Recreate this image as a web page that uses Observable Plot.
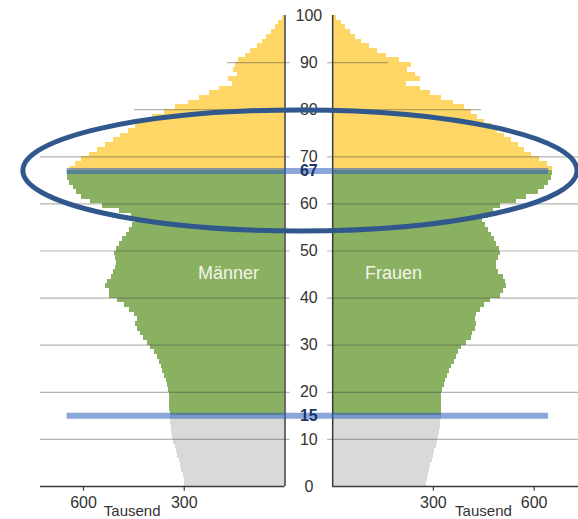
<!DOCTYPE html>
<html>
<head>
<meta charset="utf-8">
<script src="https://cdn.jsdelivr.net/npm/d3@7"></script>
<script src="https://cdn.jsdelivr.net/npm/@observablehq/plot@0.6"></script>
<style>
  html, body { margin: 0; padding: 0; background: #ffffff; }
  #chart svg { display: block; }
</style>
</head>
<body>
<div id="chart"></div>
<script>
// ---- Data (Tausend Personen je Altersjahr) ----
const ages = [
  0,1,2,3,4,5,6,7,8,9,10,11,12,13,14,15,16,17,18,19,
  20,21,22,23,24,25,26,27,28,29,30,31,32,33,34,35,36,37,38,39,
  40,41,42,43,44,45,46,47,48,49,50,51,52,53,54,55,56,57,58,59,
  60,61,62,63,64,65,66,67,68,69,70,71,72,73,74,75,76,77,78,79,
  80,81,82,83,84,85,86,87,88,89,90,91,92,93,94,95,96,97,98,99
];
const maenner = [
  298,299,303,307,311,314,319,323,327,331,335,337,339,340,341,342,343,343,345,345,
  346,349,354,359,364,369,374,381,389,399,409,421,429,439,446,439,448,463,478,498,
  523,523,533,528,516,510,506,503,506,508,503,493,483,473,464,453,443,458,494,543,
  578,606,621,631,642,648,648,642,625,605,582,558,535,512,490,467,444,420,395,358,
  325,288,256,226,196,157,169,141,154,147,137,117,102,82,68,55,41,28,18,8
];
const frauen = [
  280,282,285,288,292,296,300,304,308,312,316,319,320,322,323,325,325,325,325,325,
  328,332,336,342,348,355,362,368,375,384,399,414,417,424,429,424,429,439,451,469,
  499,509,518,514,509,494,489,489,494,499,497,489,481,474,464,454,447,464,479,499,
  548,578,612,632,642,652,655,655,640,615,592,572,552,532,512,492,472,452,432,412,
  393,360,325,292,262,220,262,246,222,236,198,159,134,109,87,68,52,38,25,12
];
const ageTicks = [0,10,20,30,40,50,60,70,80,90,100];
const markedAges = [15, 67];               // Grenzen: unter 15 / 15–66 / 67+
const valueTicks = [300, 600];              // Tausend
const gridAges = [10,20,30,40,50,60,70,80,90];
const gridReachLeft  = [728,728,728,728,728,728,728,448,171];
const gridReachRight = [732,732,732,732,732,732,732,443,166];
const groupNames  = ["unter 15", "15 bis 66", "67 und älter"];
const groupColors = ["#d9d9d9", "#8ab062", "#fdd666"];
const sideLabels  = ["Männer", "Frauen"];

// ---- Layout helpers (in Tausend units) ----
const gap = 71;                 // half width of the central label column
const xDomain = [-799, 803];
const markLineLeft = 649, markLineRight = 643;
const sideLabelAge = 45.2, sideLabelPos = [168, 181];
const unitLabelPos = [455, 449];
const ellipseSpec = {x: -25, age: 67, rx: 825, ry: 12.85};

const groupOf = a => a < markedAges[0] ? groupNames[0] : a < markedAges[1] ? groupNames[1] : groupNames[2];
const bars = ages.flatMap((a, i) => [
  {age: a, x1: -gap, x2: -gap - maenner[i], group: groupOf(a)},
  {age: a, x1: gap,  x2: gap + frauen[i],   group: groupOf(a)}
]);
const grid = gridAges.map((a, i) => ({age: a, left: gridReachLeft[i], right: gridReachRight[i]}));
const xTicks = [...valueTicks.map(v => -gap - v), ...valueTicks.map(v => gap + v)];
const font = "'Liberation Sans Narrow', 'Liberation Sans', Arial, sans-serif";

const chart = Plot.plot({
  width: 578,
  height: 519,
  marginLeft: 40,
  marginRight: 0,
  marginTop: 15,
  marginBottom: 33,
  style: {background: "#ffffff", fontFamily: font, fontSize: "16px", color: "#333"},
  x: {domain: xDomain, axis: null},
  y: {domain: [0, 100], axis: null},
  color: {domain: groupNames, range: groupColors},
  marks: [
    Plot.rectX(bars, {x1: "x1", x2: "x2", y1: "age", y2: d => d.age + 1, fill: "group", shapeRendering: "crispEdges"}),
    // grid lines (over the bars, semi-transparent)
    Plot.ruleY(grid, {y: "age", x1: d => -gap - d.left, x2: -gap + 15, stroke: "#444", strokeOpacity: 0.4, strokeWidth: 1.2}),
    Plot.ruleY(grid, {y: "age", x1: gap - 15, x2: d => gap + d.right, stroke: "#444", strokeOpacity: 0.4, strokeWidth: 1.2}),
    // vertical axis lines
    Plot.ruleX([-gap, gap], {y1: 0, y2: 100, stroke: "#3a3a3a", strokeWidth: 1.5}),
    // bottom axis lines
    Plot.ruleY([0], {x1: xDomain[0], x2: -gap, stroke: "#3a3a3a", strokeWidth: 1.5}),
    Plot.ruleY([0], {x1: gap, x2: xDomain[1], stroke: "#3a3a3a", strokeWidth: 1.5}),
    // bottom ticks and labels
    Plot.ruleX(xTicks, {y1: 0, y2: -1, stroke: "#3a3a3a", strokeWidth: 1.2}),
    Plot.text(xTicks, {x: d => d, y: 0, dy: 16, text: d => String(Math.abs(d) - gap), fill: "#333", fontSize: 16}),
    Plot.text([-1, 1], {x: d => d * (gap + (d < 0 ? unitLabelPos[0] : unitLabelPos[1])), y: 0, dy: 25, text: () => "Tausend", fill: "#333", fontSize: 15}),
    // marked age lines 15 and 67
    Plot.ruleY(markedAges, {x1: -gap - markLineLeft, x2: gap + markLineRight, stroke: "#2c5fc0", strokeOpacity: 0.55, strokeWidth: 6}),
    // central age labels
    Plot.text(ageTicks, {x: 0, y: d => d, text: d => String(d), fill: "#333", fontSize: 16}),
    Plot.text(markedAges, {x: 0, y: d => d, text: d => String(d), fill: "#1c3461", fontSize: 16, fontWeight: "bold"}),
    // side labels
    Plot.text(sideLabels, {x: (d, i) => i === 0 ? -gap - sideLabelPos[0] : gap + sideLabelPos[1], y: sideLabelAge, text: d => d, fill: "#f4f4ea", fontSize: 18, fontFamily: "'Liberation Sans', Arial, sans-serif"}),
    // highlight ellipse around the retirement-age boom
    (index, scales) => {
      const {x, y} = scales;
      const cx = x(ellipseSpec.x), cy = y(ellipseSpec.age);
      const rx = x(ellipseSpec.x + ellipseSpec.rx) - cx;
      const ry = y(ellipseSpec.age - ellipseSpec.ry) - cy;
      return d3.create("svg:ellipse")
        .attr("cx", cx).attr("cy", cy).attr("rx", rx).attr("ry", ry)
        .attr("fill", "none").attr("stroke", "#30588c").attr("stroke-width", 5)
        .node();
    }
  ]
});
document.getElementById("chart").appendChild(chart);
</script>
</body>
</html>
